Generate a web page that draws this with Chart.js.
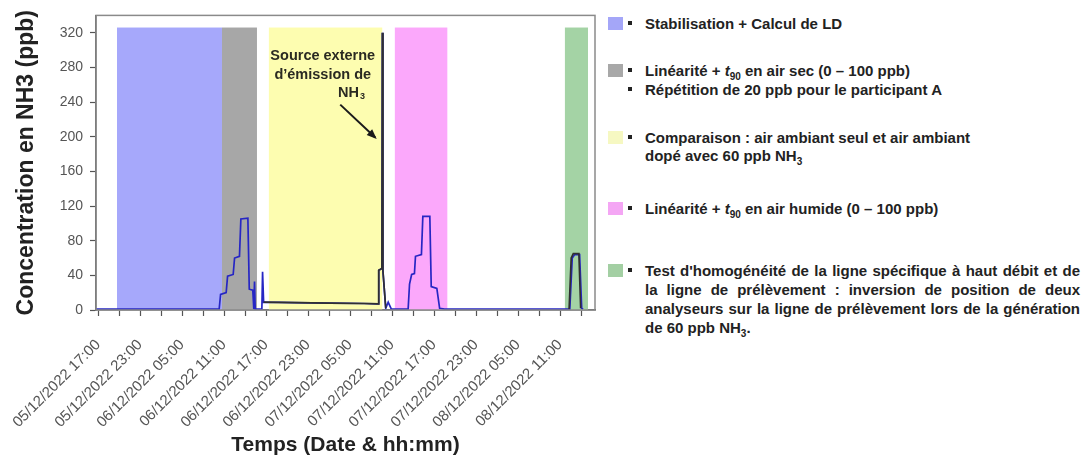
<!DOCTYPE html>
<html>
<head>
<meta charset="utf-8">
<script src="https://cdn.jsdelivr.net/npm/chart.js@4.4.1/dist/chart.umd.min.js"></script>
<style>
  body { margin: 0; background: #fff; font-family: "Liberation Sans", Arial, sans-serif; }
  #wrap { position: relative; width: 1087px; height: 460px; overflow: hidden; }
  #chartBox { position: absolute; left: 0; top: 0; width: 600px; height: 460px; }
  .sw { position: absolute; left: 608px; width: 15px; height: 13px; }
  .bul { position: absolute; left: 628px; width: 4px; height: 4px; background: #222; }
  .ln { position: absolute; left: 645px; width: 435px; font-size: 15px; font-weight: bold;
        line-height: 19px; color: #222; white-space: nowrap; }
  .ln.just { text-align: justify; text-align-last: justify; white-space: normal; }
  .ln sub { font-size: 10px; line-height: 0; }
</style>
</head>
<body>
<div id="wrap">
  <div id="chartBox"><canvas id="nh3Chart" width="600" height="460"></canvas></div>
  <div id="legendBox"></div>
</div>
<script>
// x axis: hours since 05/12/2022 00:00
var tickHours = [17, 20, 23, 26, 29, 32, 35, 38, 41, 44, 47, 50, 53, 56, 59, 62, 65, 68, 71, 74, 77, 80, 83, 86];
var tickLabels = ["05/12/2022 17:00", "", "05/12/2022 23:00", "", "06/12/2022 05:00", "", "06/12/2022 11:00", "",
  "06/12/2022 17:00", "", "06/12/2022 23:00", "", "07/12/2022 05:00", "", "07/12/2022 11:00", "",
  "07/12/2022 17:00", "", "07/12/2022 23:00", "", "08/12/2022 05:00", "", "08/12/2022 11:00", ""];

// test phases (shaded bands)
var bandStart = [19.7, 34.7, 41.4, 59.4, 83.7];
var bandEnd = [34.7, 39.7, 57.6, 66.9, 87.0];
var bandColors = ["#a6a8fb", "#a7a7a7", "#fdfdb0", "#fba8fb", "#a4d3a5"];
var bandTop = 326;

// analyser 1 (blue trace)
var blueHours = [16.7, 34.3, 34.5, 35.3, 35.5, 36.3, 36.5, 37.2, 37.4, 38.4, 38.6, 39.1, 39.25, 39.35, 39.45,
  40.4, 40.5, 40.65, 45, 50, 55, 57.0, 57.1, 57.55, 57.62, 57.7, 58.1, 58.45, 58.9,
  61.3, 61.5, 61.8, 62.2, 62.35, 63.2, 63.4, 64.4, 64.6, 65.4, 65.8, 66.5,
  84.4, 84.75, 85.1, 85.8, 86.1, 86.3];
var blueValues = [1, 1, 18, 20, 39, 41, 60, 62, 105, 106, 24, 23, 1, 33, 1,
  1, 44, 9, 8.5, 8, 7.5, 7, 46, 48, 320, 45, 2, 9, 1,
  1, 30, 41, 42, 62, 64, 108, 108, 27, 25, 2, 1,
  1, 60, 64, 64, 2, 1];

// analyser 2 (dark trace), null = gap
var darkHours = [40.65, 45, 50, 55, 57.0, 57.1, 57.55, 57.62, 57.7, 58.1, 70, 84.3, 84.6, 84.9, 85.7, 85.95];
var darkValues = [9, 8.5, 8, 7.5, 7, 46, 48, 320, 45, 2, null, 1, 60, 65, 65, 2];

var legendSwatch = ["#a4a6f8", "#a8a8a8", "#f6f8c2", "#f4a6f4", "#a3cfa3"];
var legendLines = [
  [["Stabilisation + Calcul de LD", true]],
  [["Linéarité + <i>t</i><sub>90</sub> en air sec (0 – 100 ppb)", true], ["Répétition de 20 ppb pour le participant A", true]],
  [["Comparaison : air ambiant seul et air ambiant", false], ["dopé avec 60 ppb NH<sub>3</sub>", false]],
  [["Linéarité + <i>t</i><sub>90</sub> en air humide (0 – 100 ppb)", false]],
  [["Test d'homogénéité de la ligne spécifique à haut débit et de", false], ["la ligne de prélèvement : inversion de position de deux", false],
   ["analyseurs sur la ligne de prélèvement lors de la génération", false], ["de 60 ppb NH<sub>3</sub>.", false]]
];
var legendY = [[23], [70, 89], [137, 155], [208], [270, 289, 308, 327]];

// legend (html, right side)
var lb = document.getElementById("legendBox");
legendLines.forEach(function (item, i) {
  var html = '<div class="sw" style="top:' + (legendY[i][0] - 6.5) + 'px;background:' + legendSwatch[i] + '"></div>';
  item.forEach(function (line, j) {
    var cy = legendY[i][j];
    if (j === 0 || line[1]) html += '<div class="bul" style="top:' + (cy - 2) + 'px"></div>';
    var just = (i === 4 && j < 3) ? " just" : "";
    html += '<div class="ln' + just + '" style="top:' + (cy - 9.5) + 'px">' + line[0] + '</div>';
  });
  lb.insertAdjacentHTML("beforeend", html);
});

function toPoints(hs, vs) {
  return hs.map(function (h, i) { return { x: h, y: vs[i] }; });
}

var FONT = "'Liberation Sans', Arial, sans-serif";

var phasePlugin = {
  id: "phases",
  beforeDatasetsDraw: function (chart) {
    var ctx = chart.ctx, a = chart.chartArea, x = chart.scales.x, y = chart.scales.y;
    ctx.save();
    ctx.beginPath();
    ctx.rect(a.left, a.top, a.right - a.left, a.bottom - a.top);
    ctx.clip();
    var top = y.getPixelForValue(bandTop), bot = y.getPixelForValue(0);
    for (var i = 0; i < bandStart.length; i++) {
      var x0 = x.getPixelForValue(bandStart[i]), x1 = x.getPixelForValue(bandEnd[i]);
      ctx.fillStyle = bandColors[i];
      ctx.fillRect(x0, top, x1 - x0, bot - top);
    }
    ctx.restore();
  },
  afterDatasetsDraw: function (chart) {
    var ctx = chart.ctx, a = chart.chartArea, x = chart.scales.x, y = chart.scales.y;
    ctx.save();
    // frame
    ctx.strokeStyle = "#8a8a8a";
    ctx.lineWidth = 1.5;
    ctx.strokeRect(a.left, a.top, a.right - a.left, a.bottom - a.top);
    // annotation
    ctx.fillStyle = "#2a2a22";
    ctx.font = "bold 14.5px " + FONT;
    ctx.textAlign = "center";
    ctx.textBaseline = "middle";
    var cx = x.getPixelForValue(49.1);
    ctx.fillText("Source externe", cx, y.getPixelForValue(293));
    ctx.fillText("d\u2019émission de", cx, y.getPixelForValue(271));
    var nx = x.getPixelForValue(53.0), ny = y.getPixelForValue(251);
    ctx.textAlign = "left";
    ctx.fillText("NH", nx - 12, ny);
    ctx.font = "bold 9px " + FONT;
    ctx.fillText("3", nx + 10, ny + 4);
    // arrow
    var ax0 = x.getPixelForValue(51.6), ay0 = y.getPixelForValue(237);
    var ax1 = x.getPixelForValue(56.6), ay1 = y.getPixelForValue(199);
    ctx.strokeStyle = "#1a1a1a";
    ctx.lineWidth = 2;
    ctx.beginPath();
    ctx.moveTo(ax0, ay0);
    ctx.lineTo(ax1, ay1);
    ctx.stroke();
    var ang = Math.atan2(ay1 - ay0, ax1 - ax0);
    ctx.fillStyle = "#1a1a1a";
    ctx.beginPath();
    ctx.moveTo(ax1 + 2 * Math.cos(ang), ay1 + 2 * Math.sin(ang));
    ctx.lineTo(ax1 - 8 * Math.cos(ang) + 4 * Math.sin(ang), ay1 - 8 * Math.sin(ang) - 4 * Math.cos(ang));
    ctx.lineTo(ax1 - 8 * Math.cos(ang) - 4 * Math.sin(ang), ay1 - 8 * Math.sin(ang) + 4 * Math.cos(ang));
    ctx.closePath();
    ctx.fill();
    ctx.restore();
  }
};

var ctx = document.getElementById("nh3Chart");
var nh3Chart = new Chart(ctx, {
  type: "line",
  data: {
    datasets: [
      {
        label: "Analyseur 1",
        data: toPoints(blueHours, blueValues),
        borderColor: "#2626c4",
        borderWidth: 1.7,
        pointRadius: 0,
        tension: 0,
        fill: false,
        order: 2
      },
      {
        label: "Analyseur 2",
        data: toPoints(darkHours, darkValues),
        borderColor: "#303030",
        borderWidth: 1.7,
        pointRadius: 0,
        tension: 0,
        fill: false,
        spanGaps: false,
        order: 1
      }
    ]
  },
  options: {
    responsive: false,
    animation: false,
    layout: { padding: { top: 11, right: 5, left: 0, bottom: 0 } },
    plugins: {
      legend: { display: false },
      tooltip: { enabled: false }
    },
    scales: {
      x: {
        type: "linear",
        min: 16.7,
        max: 88,
        afterBuildTicks: function (axis) {
          axis.ticks = tickHours.map(function (h) { return { value: h }; });
        },
        afterFit: function (scale) {
          scale.height = 150;
          scale.paddingLeft = 0;
          scale.paddingRight = 0;
        },
        grid: { drawOnChartArea: false, tickLength: 6, tickColor: "#555", tickWidth: 1.2 },
        border: { display: true, color: "#555", width: 1.5 },
        ticks: {
          autoSkip: false,
          maxRotation: 45,
          minRotation: 45,
          padding: 20,
          color: "#555",
          font: { size: 15, family: FONT },
          callback: function (value) {
            var k = tickHours.indexOf(value);
            return k >= 0 ? tickLabels[k] : "";
          }
        },
        title: {
          display: true,
          text: "Temps (Date & hh:mm)",
          color: "#222",
          font: { size: 21, weight: "bold", family: FONT },
          padding: { top: 0, bottom: 2 }
        }
      },
      y: {
        min: 0,
        max: 340,
        afterFit: function (scale) { scale.width = 96; },
        grid: { drawOnChartArea: false, tickLength: 6, tickColor: "#555", tickWidth: 1.2 },
        border: { display: true, color: "#555", width: 1.5 },
        ticks: {
          stepSize: 20,
          padding: 7,
          color: "#555",
          font: { size: 14, family: FONT },
          callback: function (value) { return value % 40 === 0 ? value : ""; }
        },
        title: {
          display: true,
          text: "Concentration en NH3 (ppb)",
          color: "#222",
          font: { size: 23, weight: "bold", family: FONT },
          padding: { top: 13, bottom: 0 }
        }
      }
    }
  },
  plugins: [phasePlugin]
});
</script>
</body>
</html>
